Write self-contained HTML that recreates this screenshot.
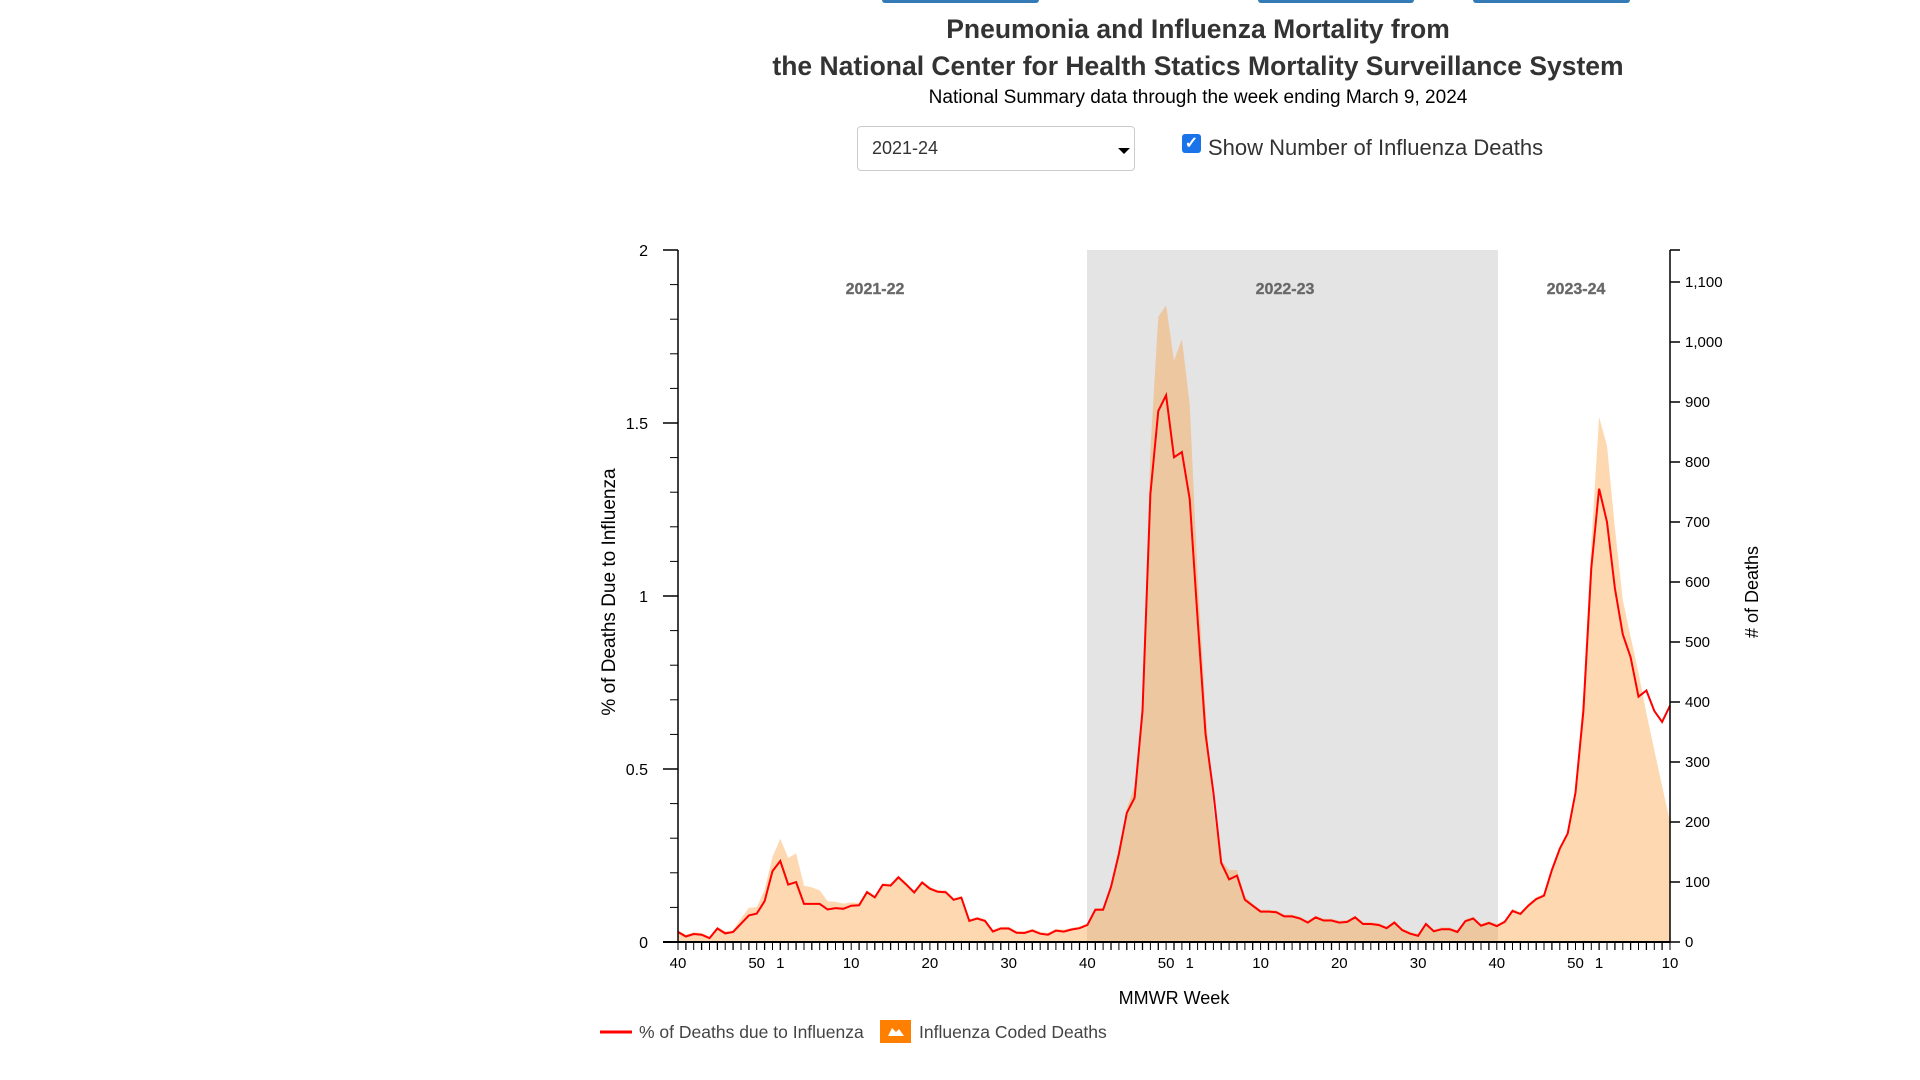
<!DOCTYPE html>
<html><head><meta charset="utf-8"><style>
html,body{margin:0;padding:0;background:#fff;width:1920px;height:1080px;overflow:hidden;font-family:"Liberation Sans",sans-serif;}
.abs{position:absolute;}
.btn{position:absolute;top:0;height:3px;background:#337ab7;border-radius:0 0 3px 3px;}
</style></head><body>
<div class="btn" style="left:882px;width:157px"></div>
<div class="btn" style="left:1258px;width:156px"></div>
<div class="btn" style="left:1473px;width:157px"></div>
<div class="abs" style="left:683px;width:1030px;top:11px;text-align:center;font-weight:bold;font-size:26.5px;color:#333;line-height:37px">Pneumonia and Influenza Mortality from<br>the National Center for Health Statics Mortality Surveillance System</div>
<div class="abs" style="left:683px;width:1030px;top:87px;text-align:center;font-size:19px;color:#000">National Summary data through the week ending March 9, 2024</div>
<div class="abs" style="left:857px;top:126px;width:278px;height:45px;border:1px solid #ccc;border-radius:4px;box-sizing:border-box"></div>
<div class="abs" style="left:872px;top:138px;font-size:18px;color:#333">2021-24</div>
<div class="abs" style="left:1118px;top:148px;width:0;height:0;border-left:6px solid transparent;border-right:6px solid transparent;border-top:6px solid #000"></div>
<div class="abs" style="left:1182px;top:134px;width:19px;height:19px;background:#1a73e8;border-radius:3px;color:#fff;font-size:16px;line-height:19px;text-align:center;font-weight:bold">✓</div>
<div class="abs" style="left:1208px;top:135px;font-size:22px;color:#333">Show Number of Influenza Deaths</div>
<svg class="abs" style="left:0;top:0" width="1920" height="1080" id="s"></svg>
<script>
var pct=[0.029,0.016,0.023,0.021,0.011,0.039,0.025,0.029,0.053,0.077,0.082,0.118,0.205,0.234,0.166,0.173,0.110,0.110,0.110,0.094,0.098,0.096,0.105,0.106,0.144,0.129,0.165,0.163,0.187,0.166,0.143,0.172,0.154,0.145,0.144,0.122,0.128,0.061,0.068,0.061,0.030,0.039,0.039,0.027,0.026,0.033,0.024,0.021,0.033,0.030,0.036,0.040,
0.049,0.093,0.093,0.159,0.255,0.373,0.417,0.668,1.295,1.535,1.580,1.401,1.416,1.280,0.934,0.602,0.432,0.229,0.181,0.192,0.122,0.105,0.088,0.088,0.086,0.074,0.074,0.068,0.056,0.071,0.062,0.062,0.056,0.058,0.071,0.052,0.052,0.049,0.040,0.056,0.034,0.024,0.018,0.052,0.031,0.037,0.037,0.029,0.060,0.068,0.047,0.055,
0.046,0.058,0.090,0.081,0.105,0.124,0.134,0.208,0.270,0.314,0.432,0.668,1.081,1.310,1.214,1.022,0.889,0.823,0.709,0.727,0.668,0.636,0.683];
var ov={8:39,9:57,10:58,11:87,12:142,13:172,14:140,15:148,16:94,17:91,18:86,19:68,20:67,21:64,22:66,23:65,
56:157,57:222,58:260,59:390,60:819,61:1042,62:1061,63:969,64:1005,65:896,66:612,67:389,68:217,69:136,70:120,71:120,72:76,
115:420,116:664,117:875,118:827,119:690,120:570,121:509,122:449,123:381,124:320,125:260,126:200};
var X0=678,DX=992/126,Y0=942;
function X(i){return X0+i*DX}
var F='font-family="Liberation Sans,sans-serif"';
var h='';
h+='<rect x="1087" y="250" width="411" height="692" fill="#e4e4e4"/>';
var a='M'+X(0)+' '+Y0;
for(var i=0;i<pct.length;i++){var d=(ov[i]!==undefined)?ov[i]:pct[i]*577+3;a+=' L'+X(i).toFixed(1)+' '+(Y0-d*0.6).toFixed(1);}
a+=' L'+X(126)+' '+Y0+' Z';
h+='<path d="'+a+'" fill="rgb(250,150,44)" fill-opacity="0.37"/>';
var l='';
for(var i=0;i<pct.length;i++){l+=(i?' L':'M')+X(i).toFixed(1)+' '+(Y0-pct[i]*346).toFixed(1);}
h+='<path d="'+l+'" fill="none" stroke="#f00" stroke-width="2"/>';
h+='<g '+F+' font-weight="bold" font-size="16" fill="#666" stroke="#777" stroke-width="0.4" text-anchor="middle"><text x="875" y="294">2021-22</text><text x="1285" y="294">2022-23</text><text x="1576" y="294">2023-24</text></g>';
h+='<line x1="678" y1="250" x2="678" y2="942" stroke="#000" stroke-width="1.5"/>';
for(var k=0;k<=20;k++){var y=Y0-k*34.6;var maj=(k%5==0);h+='<line x1="'+(maj?663:670)+'" y1="'+y+'" x2="678" y2="'+y+'" stroke="#000" stroke-width="'+(maj?1.5:1)+'"/>';}
var yl=['0','0.5','1','1.5','2'];
for(var k=0;k<5;k++){h+='<text x="648" y="'+(Y0-k*173+6)+'" font-size="16" text-anchor="end" '+F+'>'+yl[k]+'</text>';}
h+='<line x1="1670" y1="250" x2="1670" y2="942" stroke="#000" stroke-width="1.5"/><line x1="1670" y1="250" x2="1680" y2="250" stroke="#000" stroke-width="1.5"/>';
for(var k=0;k<=11;k++){var y=Y0-k*60;h+='<line x1="1670" y1="'+y+'" x2="1680" y2="'+y+'" stroke="#000" stroke-width="1.5"/>';var t=k*100;t=t>=1000?(Math.floor(t/1000)+','+String(t%1000).padStart(3,'0')):String(t);h+='<text x="1685" y="'+(y+5)+'" font-size="15" '+F+'>'+t+'</text>';}
h+='<line x1="663" y1="942" x2="1670" y2="942" stroke="#000" stroke-width="2"/>';
for(var i=0;i<=126;i++){h+='<line x1="'+X(i).toFixed(1)+'" y1="942" x2="'+X(i).toFixed(1)+'" y2="950" stroke="#000" stroke-width="'+(i%2?1.3:1)+'"/>';}
var xl={0:'40',10:'50',13:'1',22:'10',32:'20',42:'30',52:'40',62:'50',65:'1',74:'10',84:'20',94:'30',104:'40',114:'50',117:'1',126:'10'};
for(var i in xl){h+='<text x="'+X(+i).toFixed(1)+'" y="968" font-size="15" text-anchor="middle" '+F+'>'+xl[i]+'</text>';}
h+='<text x="1174" y="1004" font-size="18" text-anchor="middle" '+F+'>MMWR Week</text>';
h+='<text transform="translate(615,592) rotate(-90)" font-size="19" text-anchor="middle" '+F+'>% of Deaths Due to Influenza</text>';
h+='<text transform="translate(1758,592) rotate(-90)" font-size="18" text-anchor="middle" '+F+'># of Deaths</text>';
h+='<line x1="600" y1="1032" x2="632" y2="1032" stroke="#f00" stroke-width="3"/>';
h+='<text x="639" y="1038" font-size="17.5" fill="#444" '+F+'>% of Deaths due to Influenza</text>';
h+='<rect x="880" y="1020" width="31" height="23" fill="#ff8000"/><path d="M888 1036 L892 1028 L896 1032 L899 1029 L904 1036 Z" fill="#fff"/>';
h+='<text x="919" y="1038" font-size="17.5" fill="#444" '+F+'>Influenza Coded Deaths</text>';
document.getElementById('s').innerHTML=h;
</script>
</body></html>
